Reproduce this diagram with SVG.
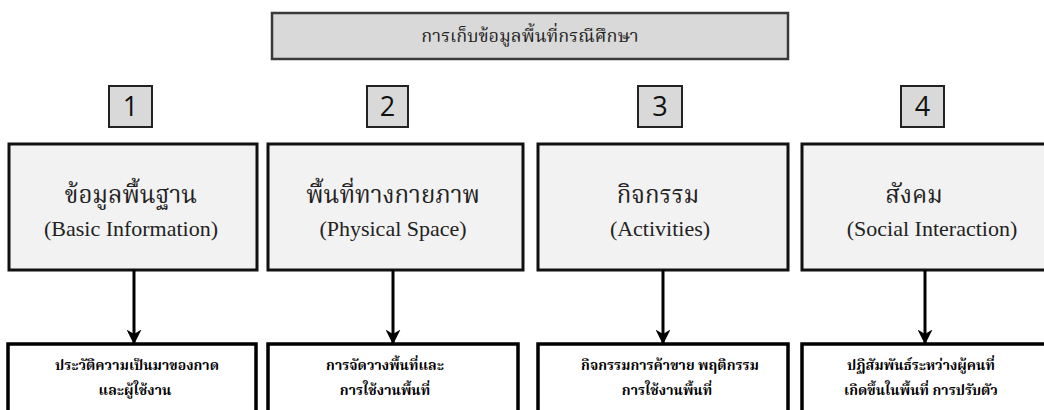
<svg xmlns="http://www.w3.org/2000/svg" width="1044" height="410" viewBox="0 0 1044 410">
<style>
.title{fill:#d9d9d9;stroke:#3a3a3a;stroke-width:2.5}
.num{fill:#d9d9d9;stroke:#222;stroke-width:2}
.main{fill:#f2f2f2;stroke:#111;stroke-width:3}
.sub{fill:#fff;stroke:#000;stroke-width:3.5}
.th{font-family:"Liberation Serif","Noto Serif Thai","Noto Sans Thai",serif;fill:#222;text-anchor:middle}
.en{font-family:"Liberation Serif",serif;fill:#222;text-anchor:middle;font-size:22px}
.n{font-family:"Open Sans","Liberation Sans",sans-serif;font-size:27px;fill:#111;text-anchor:middle}
.tb{font-family:"Liberation Serif","Noto Serif Thai","Noto Sans Thai",serif;font-size:14px;font-weight:bold;fill:#000;text-anchor:middle}
.conn{stroke:#000;stroke-width:3;fill:none}
</style>
<defs>
<marker id="ah" viewBox="0 0 10 10" refX="9" refY="5" markerWidth="5" markerHeight="5" orient="auto" markerUnits="strokeWidth">
<path d="M0,0 L10,5 L0,10 L3,5 z" fill="#000"/>
</marker>
</defs>
<g id="title">
<rect class="title" x="272" y="13" width="516" height="46"/>
<text class="th" x="530" y="42" font-size="18">การเก็บข้อมูลพื้นที่กรณีศึกษา</text>
</g>
<g id="num1"><rect class="num" x="109" y="86" width="43" height="41"/><text class="n" x="130.5" y="116">1</text></g>
<g id="num2"><rect class="num" x="367" y="86" width="41" height="41"/><text class="n" x="387.5" y="116">2</text></g>
<g id="num3"><rect class="num" x="638" y="86" width="44" height="41"/><text class="n" x="660" y="116">3</text></g>
<g id="num4"><rect class="num" x="901" y="86" width="43" height="41"/><text class="n" x="922.5" y="116">4</text></g>
<g id="box1"><rect class="main" x="9" y="144" width="248" height="126"/>
<text class="th" x="131" y="203" font-size="24">ข้อมูลพื้นฐาน</text>
<text class="en" x="131" y="236">(Basic Information)</text></g>
<g id="box2"><rect class="main" x="268" y="144" width="255" height="126"/>
<text class="th" x="393" y="203" font-size="24">พื้นที่ทางกายภาพ</text>
<text class="en" x="393" y="236">(Physical Space)</text></g>
<g id="box3"><rect class="main" x="538" y="144" width="250" height="126"/>
<text class="th" x="658" y="203" font-size="24">กิจกรรม</text>
<text class="en" x="660" y="236">(Activities)</text></g>
<g id="box4"><rect class="main" x="802" y="144" width="252" height="126"/>
<text class="th" x="914" y="203" font-size="24">สังคม</text>
<text class="en" x="932" y="236">(Social Interaction)</text></g>
<g id="connectors">
<line class="conn" x1="134" y1="270" x2="134" y2="343" marker-end="url(#ah)"/>
<line class="conn" x1="393" y1="270" x2="393" y2="343" marker-end="url(#ah)"/>
<line class="conn" x1="663" y1="270" x2="663" y2="343" marker-end="url(#ah)"/>
<line class="conn" x1="925" y1="270" x2="925" y2="343" marker-end="url(#ah)"/>
</g>
<g id="sub1"><rect class="sub" x="8" y="344" width="248" height="80"/>
<text class="tb" x="137" y="370">ประวัติความเป็นมาของกาด</text>
<text class="tb" x="135" y="395">และผู้ใช้งาน</text></g>
<g id="sub2"><rect class="sub" x="268" y="344" width="250" height="80"/>
<text class="tb" x="385" y="370">การจัดวางพื้นที่และ</text>
<text class="tb" x="385" y="395">การใช้งานพื้นที่</text></g>
<g id="sub3"><rect class="sub" x="538" y="344" width="250" height="80"/>
<text class="tb" x="670" y="370">กิจกรรมการค้าขาย พฤติกรรม</text>
<text class="tb" x="667" y="395">การใช้งานพื้นที่</text></g>
<g id="sub4"><rect class="sub" x="802" y="344" width="252" height="80"/>
<text class="tb" x="921" y="370">ปฏิสัมพันธ์ระหว่างผู้คนที่</text>
<text class="tb" x="921" y="395">เกิดขึ้นในพื้นที่ การปรับตัว</text></g>
</svg>
